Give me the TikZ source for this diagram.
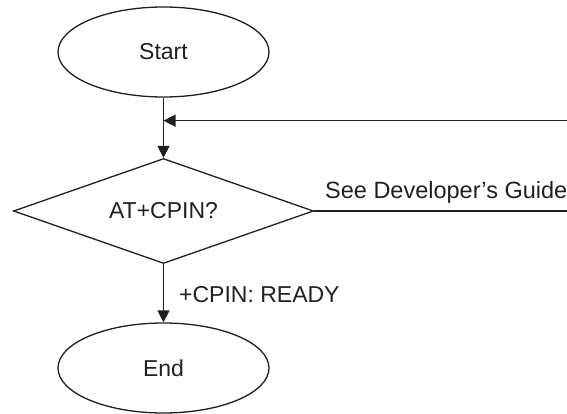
\documentclass[tikz,border=0pt]{standalone}
\usepackage{fontspec}
\setmainfont{Liberation Sans}
\usetikzlibrary{shapes.geometric,arrows.meta}
\definecolor{ink}{RGB}{35,31,32}
\tikzset{
  every node/.style={font=\fontsize{23pt}{27pt}\selectfont, text=ink},
  conn/.style={line width=1.4pt, draw=ink},
  arr/.style={conn, -{Triangle[length=12pt,width=12pt]}},
  oval/.style={ellipse, draw=ink, line width=1.3pt, minimum width=211pt, minimum height=90pt, inner sep=0pt},
  decide/.style={diamond, draw=ink, line width=1.3pt, aspect=2.857, minimum width=300pt, minimum height=105pt, inner sep=0pt},
  lbl/.style={inner sep=0pt}
}
\begin{document}
\begin{tikzpicture}[x=1pt,y=1pt]
\useasboundingbox (0,0) rectangle (567,-414);
\node[oval] (start) at (163.5,-52) {Start};
\node[decide] (dec) at (163.5,-211) {AT+CPIN?};
\node[oval] (stop) at (163.5,-368) {End};
\coordinate (fbR) at (575,-120.7);
\coordinate (fbJ) at (163.5,-120.7);
\coordinate (guideR) at (575,-211);
\draw[arr] (start.south) -- (dec.north);
\draw[arr] (fbR) -- (fbJ);
\draw[conn] (dec.east) -- (guideR);
\draw[arr] (dec.south) -- (stop.north);
\node[lbl, anchor=base west, font=\fontsize{23.5pt}{27pt}\selectfont] (guide) at (325,-198.5) {See Developer's Guide};
\node[lbl, anchor=base west] (ready) at (179,-302.7) {+CPIN: READY};
\end{tikzpicture}
\end{document}
